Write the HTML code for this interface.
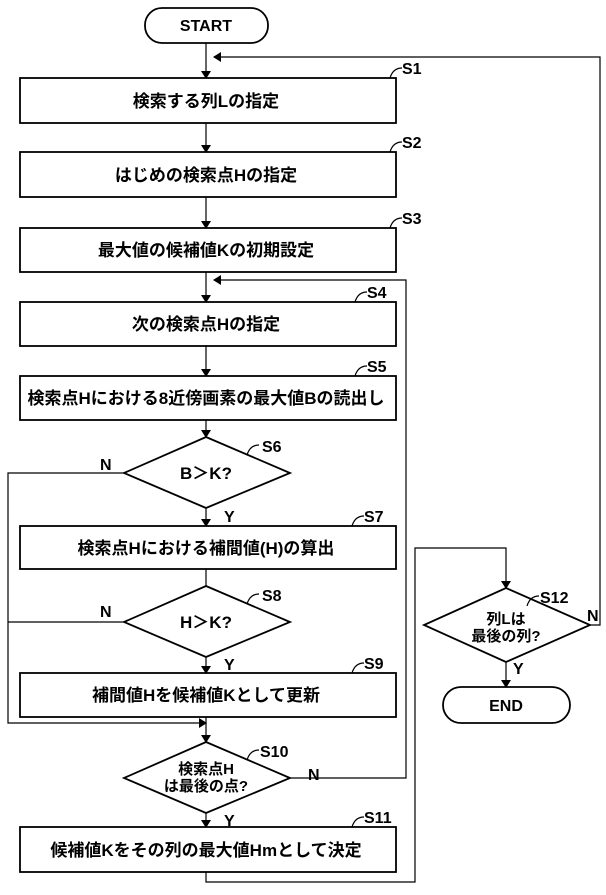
<!DOCTYPE html>
<html><head><meta charset="utf-8"><style>
html,body{margin:0;padding:0;background:#fff}
svg text{font-family:"Liberation Sans","Noto Sans CJK JP",sans-serif;font-weight:bold;fill:#000}
</style></head><body>
<svg width="606" height="890" viewBox="0 0 606 890" xmlns="http://www.w3.org/2000/svg">
<defs><marker id="a" markerWidth="8" markerHeight="10" refX="7" refY="5" orient="auto" markerUnits="userSpaceOnUse"><path d="M0,0 L8,5 L0,10 Z" fill="#000"/></marker></defs>
<g stroke="#000" stroke-width="1.8" fill="none">
<rect x="145" y="8" width="123" height="35" rx="17"/>
<rect x="20" y="78" width="376" height="45"/>
<rect x="20" y="152" width="376" height="45"/>
<rect x="20" y="228" width="376" height="44"/>
<rect x="20" y="302" width="376" height="44"/>
<rect x="20" y="376" width="376" height="44"/>
<polygon points="206,437 290,473 206,508 124,473"/>
<rect x="20" y="526" width="376" height="43"/>
<polygon points="206,586 290,622 206,657 124,622"/>
<rect x="20" y="673" width="376" height="44"/>
<polygon points="206,742 290,778 206,813 124,778"/>
<rect x="20" y="827" width="376" height="45"/>
<polygon points="506,588 590,625 506,662 424,625"/>
<rect x="443" y="687" width="127" height="36" rx="18"/>
<g stroke-width="1.2">
<path d="M206,43 V78" marker-end="url(#a)"/>
<path d="M590,625 H600 V57 H214" marker-end="url(#a)"/>
<path d="M206,123 V152" marker-end="url(#a)"/>
<path d="M206,197 V228" marker-end="url(#a)"/>
<path d="M206,272 V302" marker-end="url(#a)"/>
<path d="M290,778 H406 V280 H214" marker-end="url(#a)"/>
<path d="M206,346 V376" marker-end="url(#a)"/>
<path d="M206,420 V437" marker-end="url(#a)"/>
<path d="M206,508 V526" marker-end="url(#a)"/>
<path d="M206,569 V586"/>
<path d="M206,657 V673" marker-end="url(#a)"/>
<path d="M124,473 H8 V723 H206" marker-end="url(#a)"/>
<path d="M124,622 H8"/>
<path d="M206,717 V742" marker-end="url(#a)"/>
<path d="M206,813 V827" marker-end="url(#a)"/>
<path d="M206,872 V882 H415 V548 H506 V588" marker-end="url(#a)"/>
<path d="M506,662 V687" marker-end="url(#a)"/>
<path d="M390,78 q3,-10 12,-10"/><path d="M390,152 q3,-10 12,-10"/><path d="M390,228 q3,-10 12,-10"/>
<path d="M355,302 q3,-10 12,-10"/><path d="M355,376 q3,-10 12,-10"/><path d="M247,455 q3,-10 12,-10"/>
<path d="M352,526 q3,-10 12,-10"/><path d="M247,604 q3,-10 12,-10"/><path d="M352,673 q3,-10 12,-10"/>
<path d="M247,760 q3,-10 12,-10"/><path d="M352,827 q3,-10 12,-10"/><path d="M527,606 q3,-10 12,-10"/>
</g></g>
<g font-size="17">
<text x="206" y="31" text-anchor="middle" font-size="16">START</text>
<text x="206" y="107" text-anchor="middle">検索する列Lの指定</text>
<text x="206" y="181" text-anchor="middle">はじめの検索点Hの指定</text>
<text x="206" y="256" text-anchor="middle">最大値の候補値Kの初期設定</text>
<text x="206" y="330" text-anchor="middle">次の検索点Hの指定</text>
<text x="206" y="404" text-anchor="middle">検索点Hにおける8近傍画素の最大値Bの読出し</text>
<text x="206" y="479" text-anchor="middle">B＞K?</text>
<text x="206" y="554" text-anchor="middle">検索点Hにおける補間値(H)の算出</text>
<text x="206" y="628" text-anchor="middle">H＞K?</text>
<text x="206" y="701" text-anchor="middle">補間値Hを候補値Kとして更新</text>
<text x="206" y="774" text-anchor="middle" font-size="15">検索点H</text>
<text x="206" y="791" text-anchor="middle" font-size="15">は最後の点?</text>
<text x="206" y="856" text-anchor="middle">候補値Kをその列の最大値Hmとして決定</text>
<text x="506" y="624" text-anchor="middle" font-size="15">列Lは</text>
<text x="506" y="641" text-anchor="middle" font-size="15">最後の列?</text>
<text x="506" y="711" text-anchor="middle" font-size="16">END</text>
<g font-size="16">
<text x="402" y="74">S1</text><text x="402" y="148">S2</text><text x="402" y="224">S3</text>
<text x="367" y="298">S4</text><text x="367" y="372">S5</text><text x="262" y="452">S6</text>
<text x="364" y="522">S7</text><text x="262" y="601">S8</text><text x="364" y="669">S9</text>
<text x="260" y="757">S10</text><text x="364" y="823">S11</text><text x="540" y="603">S12</text>
<text x="100" y="470">N</text><text x="100" y="617">N</text><text x="308" y="780">N</text><text x="587" y="621">N</text>
<text x="224" y="522">Y</text><text x="224" y="670">Y</text><text x="224" y="826">Y</text><text x="513" y="674">Y</text>
</g></g>
</svg>
</body></html>
